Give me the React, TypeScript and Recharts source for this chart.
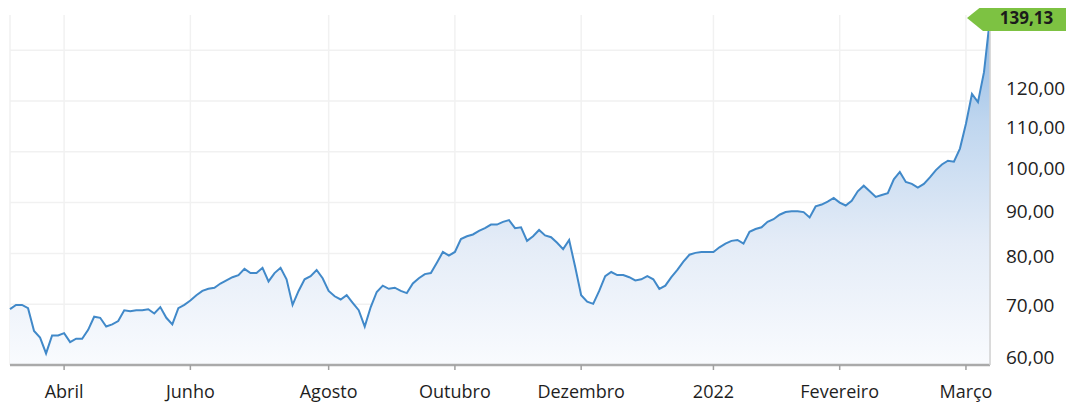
import React from "react";
import { AreaChart, Area, XAxis, YAxis, CartesianGrid, ReferenceDot } from "recharts";

// closing prices, one sample per step along the time axis
const prices = [
  69.15, 70.0, 70.0, 69.36, 64.89, 63.62, 60.64, 64.04, 64.04, 64.47,
  62.77, 63.4, 63.4, 65.11, 67.66, 67.45, 65.74, 66.17, 66.81, 68.94,
  68.72, 68.94, 68.94, 69.15, 68.3, 69.57, 67.45, 66.17, 69.36, 70.0,
  70.87, 71.96, 72.83, 73.26, 73.48, 74.35, 75.0, 75.65, 76.09, 77.39,
  76.52, 76.52, 77.61, 74.78, 76.52, 77.61, 75.22, 70.0, 72.83, 75.22,
  75.87, 77.17, 75.43, 72.83, 71.74, 71.09, 71.96, 70.43, 68.94, 65.74,
  69.57, 72.61, 73.91, 73.26, 73.48, 72.83, 72.39, 74.35, 75.43, 76.3,
  76.52, 78.7, 81.0, 80.2, 81.0, 83.8, 84.4, 84.8, 85.6, 86.2,
  87.0, 87.0, 87.6, 88.0, 86.2, 86.4, 83.4, 84.4, 85.8, 84.6,
  84.2, 83.0, 81.6, 83.6, 77.83, 71.96, 70.65, 70.22, 72.83, 75.87,
  76.74, 76.09, 76.09, 75.65, 75.0, 75.22, 75.87, 75.22, 73.26, 73.91,
  75.65, 77.17, 78.91, 80.4, 80.8, 81.0, 81.0, 81.0, 82.0, 82.8,
  83.4, 83.6, 82.8, 85.4, 86.0, 86.4, 87.6, 88.2, 89.2, 89.8,
  90.0, 90.0, 89.8, 88.6, 91.09, 91.52, 92.17, 93.04, 91.96, 91.3,
  92.39, 94.57, 95.87, 94.57, 93.26, 93.7, 94.13, 97.39, 99.13, 96.74,
  96.3, 95.43, 96.3, 97.83, 99.57, 100.91, 101.82, 101.59, 104.77, 110.95,
  118.57, 116.43, 124.29, 139.13,
];

const monthTicks = [9, 30, 53, 74, 95, 117, 138, 159];
const monthLabels = ["Abril", "Junho", "Agosto", "Outubro", "Dezembro", "2022", "Fevereiro", "Março"];
const priceTicks = [60, 70, 80, 90, 100, 110, 120];

const data = prices.map((close, i) => ({ i, close }));
const lastIndex = prices.length - 1;
const lastPrice = prices[lastIndex];

const fmt = (v: number) => v.toFixed(2).replace(".", ",");
const FONT = "'Open Sans', sans-serif";

function PriceTag(props: any) {
  const { cx, cy } = props;
  const left = cx - 7;
  const right = cx + 78;
  return (
    <g>
      <polygon
        points={`${cx - 23},${cy} ${left},${cy - 13} ${right},${cy - 13} ${right},${cy + 13} ${left},${cy + 13}`}
        fill="#7dc242"
      />
      <text
        x={(left + right) / 2 + 1}
        y={cy}
        dy="0.36em"
        textAnchor="middle"
        fontFamily={FONT}
        fontWeight={700}
        fontSize={17}
        fill="#1b1b1b"
      >
        {fmt(lastPrice)}
      </text>
    </g>
  );
}

export default function App() {
  return (
    <div style={{ width: 1066, height: 396 }}>
      <AreaChart width={1066} height={396} data={data} margin={{ top: 7, right: 0, bottom: 0, left: 2 }}>
        <defs>
          <linearGradient id="fillGrad" x1="0" y1="0" x2="0" y2="1">
            <stop offset="0%" stopColor="#8fb8e2" />
            <stop offset="30%" stopColor="#bfd6ef" />
            <stop offset="65%" stopColor="#e4ecf7" />
            <stop offset="100%" stopColor="#f9fbfe" />
          </linearGradient>
        </defs>
        <CartesianGrid
          stroke="#f1f1f1"
          strokeWidth={1.5}
          horizontalCoordinatesGenerator={({ offset }: any) => {
            const bottom = offset.top + offset.height;
            return [0, 1, 2, 3, 4, 5, 6].map((k) => bottom - 10 - k * 50.8);
          }}
        />
        <XAxis
          type="number"
          dataKey="i"
          domain={[0, lastIndex]}
          ticks={monthTicks}
          tickFormatter={(v: number) => monthLabels[monthTicks.indexOf(v)]}
          height={39}
          axisLine={{ stroke: "#aaaaaa", strokeWidth: 2.5 }}
          tickLine={{ stroke: "#a0a0a0", strokeWidth: 1.5 }}
          tickSize={5}
          tickMargin={15}
          tick={{ fill: "#1e1e1e", fontSize: 18, fontFamily: FONT }}
        />
        <YAxis
          orientation="right"
          type="number"
          scale="sqrt"
          domain={[58.5, 140]}
          ticks={priceTicks}
          tickFormatter={fmt}
          width={84}
          axisLine={{ stroke: "#d2d2d2", strokeWidth: 1.5 }}
          tickLine={false}
          tickSize={0}
          tickMargin={16}
          tick={{ fill: "#222222", fontSize: 19, fontFamily: FONT }}
        />
        <Area
          type="linear"
          dataKey="close"
          stroke="#4189c9"
          strokeWidth={2}
          fill="url(#fillGrad)"
          fillOpacity={1}
          dot={false}
          activeDot={false}
          isAnimationActive={false}
        />
        <ReferenceDot x={lastIndex} y={lastPrice} r={0} shape={<PriceTag />} />
      </AreaChart>
    </div>
  );
}
